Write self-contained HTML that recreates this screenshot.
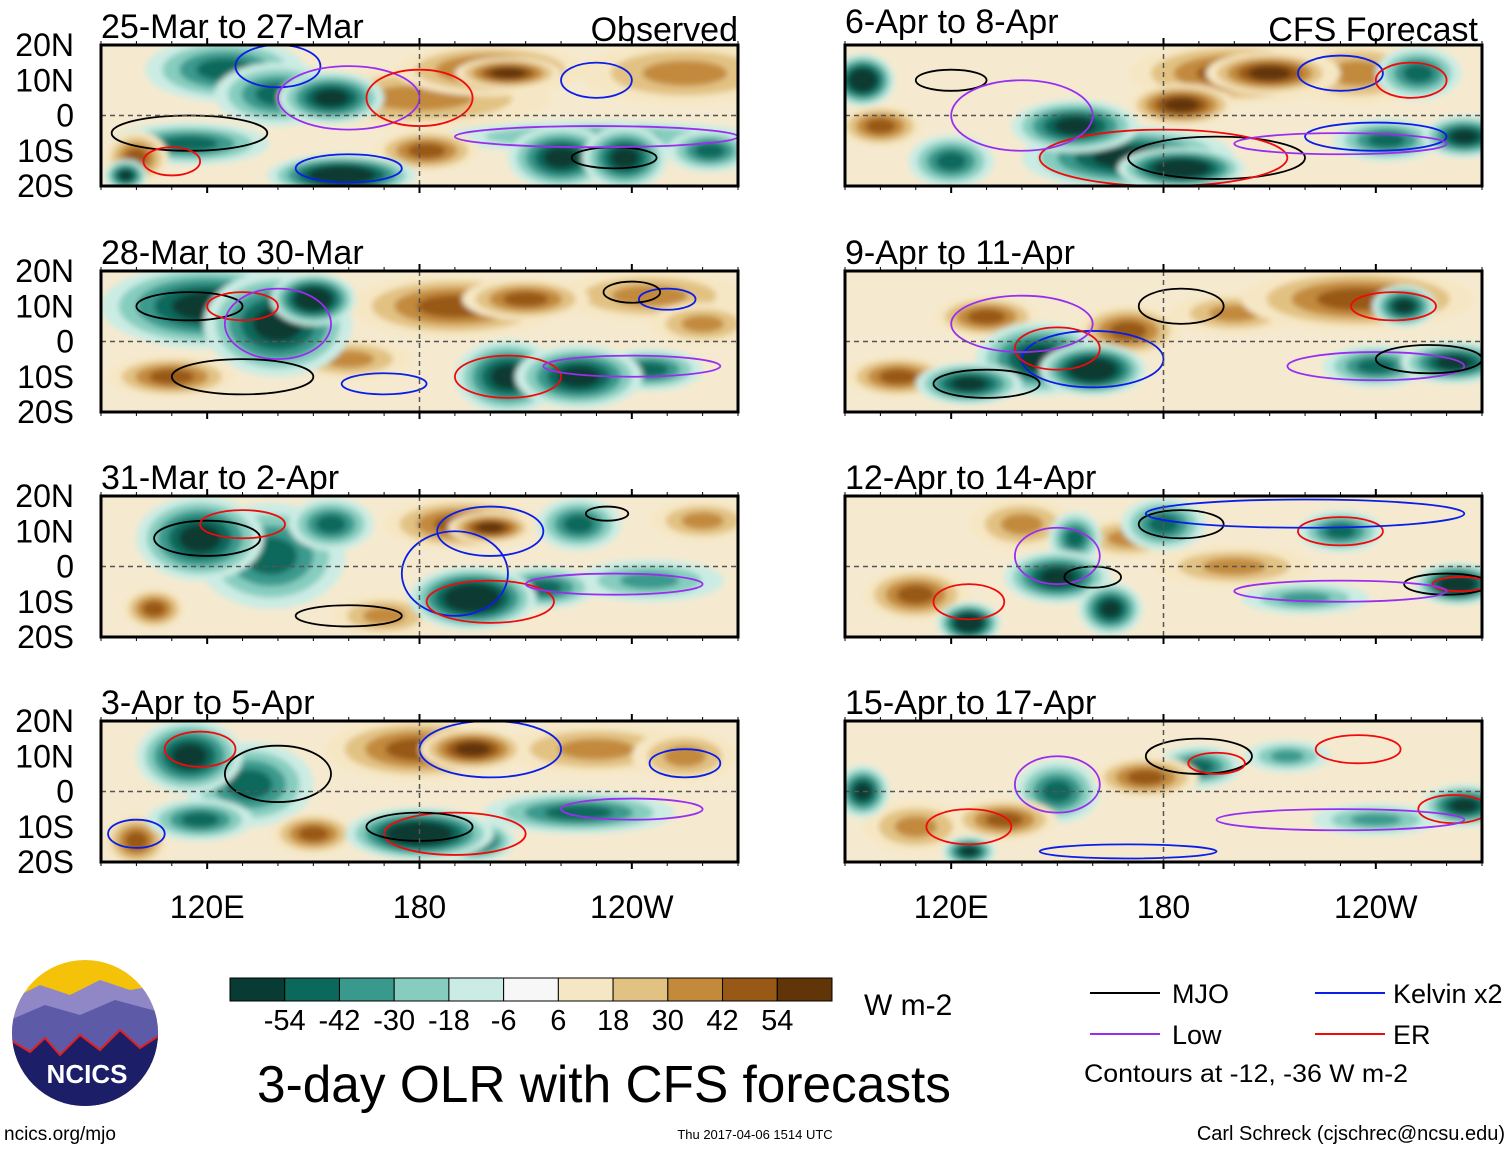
<!DOCTYPE html>
<html><head><meta charset="utf-8"><style>
body{margin:0;background:#fff;width:1510px;height:1149px;overflow:hidden;font-family:"Liberation Sans",sans-serif}
svg text{font-family:"Liberation Sans",sans-serif}
</style></head><body>
<svg id="s" width="1510" height="1149" viewBox="0 0 1510 1149" xmlns="http://www.w3.org/2000/svg">
<defs><filter id="bl" x="-30%" y="-30%" width="160%" height="160%"><feGaussianBlur stdDeviation="3"/></filter>
<clipPath id="logoclip"><circle cx="85" cy="1033" r="73"/></clipPath></defs>
</svg>
<script>
const levels=[-54,-42,-30,-18,-6,0,6,18,30,42,54];
const levelColors=["#073b33","#0b695c","#3a998d","#86cdbf","#cbece4","#f7f7f7","#f6e7c4","#e2c283","#c38a3c","#985816","#623509"];
const levelLabels=["-54","-42","-30","-18","-6","6","18","30","42","54"];
const titles=["25-Mar to 27-Mar","28-Mar to 30-Mar","31-Mar to 2-Apr","3-Apr to 5-Apr","6-Apr to 8-Apr","9-Apr to 11-Apr","12-Apr to 14-Apr","15-Apr to 17-Apr"];
// blobs: [lon, lat, rxDeg, ryDeg, olrValue]
const blobsP0=[[200,13,18,5,30],[205,12,10,3,42],[255,12,20,6,18],[180,5,25,6,18],[125,13,15,6,-30],[140,6,12,6,-30],[155,5,10,5,-42],[115,-8,15,4,-30],[158,-17,14,4,-54],[220,-12,10,6,-42],[238,-12,8,6,-42],[262,-10,8,4,-30],[100,-12,6,5,30],[97,-17,4,3,-42],[182,-10,10,4,30],[230,-6,30,3,-18]];
const blobsP1=[[120,10,20,8,-42],[140,5,14,10,-42],[150,12,8,5,-54],[190,10,20,6,30],[210,12,12,4,30],[245,13,18,5,18],[205,-10,10,7,-42],[225,-10,12,6,-42],[245,-8,10,4,-30],[110,-10,12,4,30],[160,-5,12,4,18],[260,5,10,4,18]];
const blobsP2=[[118,8,12,8,-42],[138,3,14,10,-30],[155,12,8,5,-30],[192,12,15,5,30],[200,11,8,3,42],[225,12,8,5,-30],[195,-9,12,6,-54],[215,-6,10,4,-30],[245,-4,14,4,-18],[105,-12,6,4,30],[170,-14,10,4,18],[260,13,10,4,18]];
const blobsP3=[[115,10,10,7,-42],[132,2,12,8,-30],[180,12,18,6,30],[195,12,10,4,42],[230,12,18,5,18],[255,10,10,5,18],[180,-12,14,5,-54],[195,-14,8,4,-42],[225,-6,18,4,-30],[100,-14,6,5,30],[150,-12,8,4,30],[118,-8,10,4,-30]];
const blobsP4=[[200,12,20,6,30],[210,12,12,4,42],[185,3,10,4,42],[170,-12,20,6,-42],[185,-15,12,4,-54],[155,-3,12,5,-42],[243,-7,10,4,-30],[265,-6,8,4,-42],[95,10,6,5,-54],[252,12,8,5,-30],[120,-13,8,5,-30],[235,12,14,6,18],[100,-3,8,4,30]];
const blobsP5=[[235,12,22,6,30],[248,10,6,4,-42],[145,-5,12,7,-42],[160,-8,10,5,-54],[170,3,10,5,30],[130,7,10,4,30],[240,-7,10,4,-30],[262,-6,10,4,-42],[105,-10,10,4,30],[200,8,12,4,18],[125,-12,10,4,-42]];
const blobsP6=[[180,12,8,5,-30],[230,10,8,4,-30],[150,-3,10,5,-42],[155,8,5,5,-30],[125,-16,6,4,-54],[165,-12,6,5,-42],[263,-5,8,4,-54],[220,-9,12,3,-18],[110,-8,10,5,30],[140,12,10,5,18],[200,0,15,4,18],[170,8,10,4,18]];
const blobsP7=[[150,0,8,6,-30],[190,7,8,4,-30],[215,10,8,3,-18],[265,-4,8,4,-42],[135,-8,10,4,30],[175,4,10,4,30],[110,-10,10,5,18],[95,0,5,5,-42],[125,-17,5,3,-42],[240,-8,12,3,-18]];
const allBlobs=[blobsP0,blobsP1,blobsP2,blobsP3,blobsP4,blobsP5,blobsP6,blobsP7];
// contours: [lon, lat, rxDeg, ryDeg, type]
const contP0=[[115,-5,22,5,"mjo"],[140,14,12,6,"kel"],[160,5,20,9,"low"],[180,5,15,8,"er"],[230,10,10,5,"kel"],[235,-12,12,3,"mjo"],[230,-6,40,3,"low"],[110,-13,8,4,"er"],[160,-15,15,4,"kel"]];
const contP1=[[115,10,15,4,"mjo"],[130,10,10,4,"er"],[140,5,15,10,"low"],[205,-10,15,6,"er"],[240,-7,25,3,"low"],[250,12,8,3,"kel"],[240,14,8,3,"mjo"],[130,-10,20,5,"mjo"],[170,-12,12,3,"kel"]];
const contP2=[[120,8,15,5,"mjo"],[130,12,12,4,"er"],[190,-2,15,12,"kel"],[200,10,15,7,"kel"],[200,-10,18,6,"er"],[235,-5,25,3,"low"],[233,15,6,2,"mjo"],[160,-14,15,3,"mjo"]];
const contP3=[[118,12,10,5,"er"],[140,5,15,8,"mjo"],[200,12,20,8,"kel"],[190,-12,20,6,"er"],[180,-10,15,4,"mjo"],[240,-5,20,3,"low"],[255,8,10,4,"kel"],[100,-12,8,4,"kel"]];
const contP4=[[195,-12,25,6,"mjo"],[180,-12,35,8,"er"],[230,12,12,5,"kel"],[250,10,10,5,"er"],[120,10,10,3,"mjo"],[140,0,20,10,"low"],[240,-6,20,4,"kel"],[230,-8,30,3,"low"]];
const contP5=[[185,10,12,5,"mjo"],[245,10,12,4,"er"],[160,-5,20,8,"kel"],[150,-2,12,6,"er"],[240,-7,25,4,"low"],[255,-5,15,4,"mjo"],[140,5,20,8,"low"],[130,-12,15,4,"mjo"]];
const contP6=[[185,12,12,4,"mjo"],[230,10,12,4,"er"],[150,3,12,8,"low"],[160,-3,8,3,"mjo"],[260,-5,12,3,"mjo"],[264,-5,8,2,"er"],[230,-7,30,3,"low"],[125,-10,10,5,"er"],[220,15,45,4,"kel"]];
const contP7=[[190,10,15,5,"mjo"],[195,8,8,3,"er"],[235,12,12,4,"er"],[150,2,12,8,"low"],[262,-5,10,4,"er"],[230,-8,35,3,"low"],[125,-10,12,5,"er"],[170,-17,25,2,"kel"]];
const allCont=[contP0,contP1,contP2,contP3,contP4,contP5,contP6,contP7];
const contColors={mjo:"#000",kel:"#0a1ee8",low:"#9a2ef0",er:"#f00a0a"};
const tickLabelsLat=["20N","10N","0","10S","20S"];
const latVals=[20,10,0,-10,-20];
const lonLabels=["120E","180","120W"];
const lonVals=[120,180,240];

const NS="http://www.w3.org/2000/svg";
const svg=document.getElementById('s');
function mk(tag,attrs,parent){const e=document.createElementNS(NS,tag);for(const k in attrs)e.setAttribute(k,attrs[k]);(parent||svg).appendChild(e);return e;}
const panelW=637, panelH=141;
const panelX=[101,845], panelY=[45,271,496,721];
function colorFor(v){let i=0;let best=1e9;levels.forEach((l,j)=>{if(Math.abs(l-v)<best){best=Math.abs(l-v);i=j;}});return levelColors[i];}

allBlobs.forEach((blobs,p)=>{
  const x0=panelX[p<4?0:1], y0=panelY[p%4];
  const xs=lon=>x0+(lon-90)/180*panelW;
  const ys=lat=>y0+(20-lat)/40*panelH;
  const g=mk('g',{});
  
  
  const cp=mk('clipPath',{id:'cp'+p},g);
  mk('rect',{x:x0,y:y0,width:panelW,height:panelH},cp);
  mk('rect',{x:x0,y:y0,width:panelW,height:panelH,fill:"#f5ead0"},g);
  const fg=mk('g',{'clip-path':'url(#cp'+p+')'},g);
  const bg=mk('g',{filter:'url(#bl)'},fg);
  const sorted=blobs.slice().sort((a,b)=>Math.abs(a[4])-Math.abs(b[4]));
  sorted.forEach(b=>{
    const lvl=b[4];
    const steps=Math.round(Math.abs(lvl)/12);
    for(let k=0;k<=steps;k++){
      const f=1-0.75*k/(steps+0.5);
      const v=Math.sign(lvl)*Math.max(6,k*12+6);
      const el=mk('ellipse',{cx:xs(b[0]),cy:ys(b[1]),rx:(xs(b[0]+b[2])-xs(b[0]))*f*1.5,ry:(ys(b[1])-ys(b[1]+b[3]))*f*1.5,fill:colorFor(v)},bg);
      
      
    }
  });
  allCont[p].forEach(c=>{
    const el=mk('ellipse',{cx:xs(c[0]),cy:ys(c[1]),rx:xs(c[0]+c[2])-xs(c[0]),ry:ys(c[1])-ys(c[1]+c[3]),fill:'none',stroke:contColors[c[4]],'stroke-width':1.8},fg);
    
    
  });
  mk('line',{x1:x0,x2:x0+panelW,y1:ys(0),y2:ys(0),stroke:'#555','stroke-dasharray':'5,4','stroke-width':1.5},g);
  mk('line',{x1:xs(180),x2:xs(180),y1:y0,y2:y0+panelH,stroke:'#555','stroke-dasharray':'5,4','stroke-width':1.5},g);
  mk('rect',{x:x0,y:y0,width:panelW,height:panelH,fill:'none',stroke:'#000','stroke-width':3},g);
  for(let lon=90;lon<=270;lon+=10){
    const big=lon%60==0;
    mk('line',{x1:xs(lon),x2:xs(lon),y1:y0+panelH,y2:y0+panelH+(big?7:4),stroke:'#000','stroke-width':big?2:1},g);
    mk('line',{x1:xs(lon),x2:xs(lon),y1:y0,y2:y0-(big?7:4),stroke:'#000','stroke-width':big?2:1},g);
  }
  const ty = (p==4) ? y0-12 : y0-7;
  const t=mk('text',{x:x0,y:ty,'font-size':34},g);t.textContent=titles[p];
  
  if(p==0){const o=mk('text',{x:x0+panelW,y:y0-4,'font-size':34,'text-anchor':'end'},g);o.textContent="Observed";}
  if(p==4){const o=mk('text',{x:x0+panelW-4,y:y0-4,'font-size':34,'text-anchor':'end'},g);o.textContent="CFS Forecast";}
  if(p<4){latVals.forEach((lv,i)=>{const tt=mk('text',{x:74,y:ys(lv)+11,'font-size':32,'text-anchor':'end'},g);tt.textContent=tickLabelsLat[i];
    });}
  if(p%4==3){lonVals.forEach((lv,i)=>{const tt=mk('text',{x:xs(lv),y:918,'font-size':32,'text-anchor':'middle'},g);tt.textContent=lonLabels[i];
    });}
});
// colorbar
const cb=mk('g',{});
const cbx=230,cbw=602/11;
levelColors.forEach((c,i)=>{mk('rect',{x:cbx+i*cbw,y:978,width:cbw,height:23,fill:c,stroke:'#000','stroke-width':1},cb);});
levelLabels.forEach((l,i)=>{const t=mk('text',{x:cbx+(i+1)*cbw,y:1030,'font-size':29,'text-anchor':'middle'},cb);t.textContent=l;});
let t=mk('text',{x:864,y:1015,'font-size':30});t.textContent="W m-2";
t=mk('text',{x:604,y:1102,'font-size':52,'text-anchor':'middle',textLength:694,lengthAdjust:'spacingAndGlyphs'});t.textContent="3-day OLR with CFS forecasts";

t=mk('text',{x:4,y:1140,'font-size':19});t.textContent="ncics.org/mjo";
t=mk('text',{x:755,y:1139,'font-size':13,'text-anchor':'middle'});t.textContent="Thu 2017-04-06 1514 UTC";
t=mk('text',{x:1505,y:1140,'font-size':20,'text-anchor':'end'});t.textContent="Carl Schreck (cjschrec@ncsu.edu)";
// legend
const lg=mk('g',{});
[["MJO","#000",1090,993,1172],["Kelvin x2","#0a1ee8",1315,993,1393],["Low","#9a2ef0",1090,1034,1172],["ER","#f00a0a",1315,1034,1393]].forEach(e=>{
  mk('line',{x1:e[2],x2:e[2]+70,y1:e[3],y2:e[3],stroke:e[1],'stroke-width':2},lg);
  const tt=mk('text',{x:e[4],y:e[3]+10,'font-size':27},lg);tt.textContent=e[0];
});
t=mk('text',{x:1084,y:1082,'font-size':25,textLength:324,lengthAdjust:'spacingAndGlyphs'});t.textContent="Contours at -12, -36 W m-2";
// logo
const lo=mk('g',{'clip-path':'url(#logoclip)'});
mk('rect',{x:10,y:958,width:150,height:150,fill:'#f5c20a'},lo);
mk('path',{d:'M10 1000 L40 985 L70 995 L100 980 L130 990 L160 985 L160 1110 L10 1110Z',fill:'#8f87c6'},lo);
mk('path',{d:'M10 1020 L45 1005 L80 1015 L115 1000 L160 1012 L160 1110 L10 1110Z',fill:'#5d5aa8'},lo);
mk('path',{d:'M10 1040 L30 1052 L45 1038 L60 1055 L80 1035 L100 1050 L120 1030 L140 1048 L160 1035 L160 1110 L10 1110Z',fill:'#1c1f68',stroke:'#e02020','stroke-width':2},lo);
t=mk('text',{x:87,y:1083,'font-size':26,'font-weight':'bold',fill:'#fff','text-anchor':'middle'});t.textContent="NCICS";
</script>
</body></html>
